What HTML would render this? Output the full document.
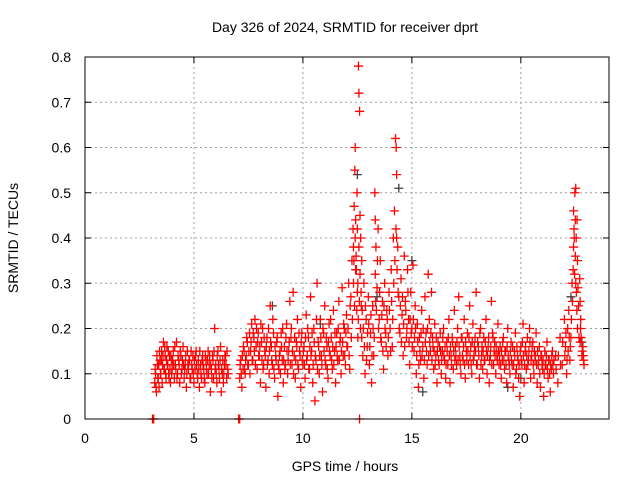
<!DOCTYPE html>
<html><head><meta charset="utf-8"><style>
body{margin:0;background:#fff;}
svg{display:block;font-family:"Liberation Sans",sans-serif;}
</style></head><body>
<svg id="chart" width="640" height="480" viewBox="0 0 640 480">
<rect width="640" height="480" fill="#fff"/>
<text x="345" y="32" font-size="14" text-anchor="middle">Day 326 of 2024, SRMTID for receiver dprt</text>
<text transform="translate(18,238) rotate(-90)" font-size="14" text-anchor="middle">SRMTID / TECUs</text>
<text x="345" y="471" font-size="14" text-anchor="middle">GPS time / hours</text>
<g id="grid"></g><g id="ticks"></g><g id="marks"></g>
<rect x="85" y="57" width="524" height="362" fill="none" stroke="#000" stroke-width="1"/>
</svg>
<script>
const xTicks=[0,5,10,15,20];
const yTicks=[0,0.1,0.2,0.3,0.4,0.5,0.6,0.7,0.8];
const yTickLabels=["0","0.1","0.2","0.3","0.4","0.5","0.6","0.7","0.8"];
const times=[3.20,3.24,3.28,3.32,3.36,3.40,3.44,3.48,3.52,3.56,3.60,3.64,3.68,3.72,3.76,3.80,3.84,3.88,3.92,3.96,4.00,4.05,4.10,4.15,4.20,4.25,4.30,4.35,4.40,4.45,4.50,4.55,4.60,4.65,4.70,4.75,4.80,4.85,4.90,4.95,5.00,5.05,5.10,5.15,5.20,5.25,5.30,5.35,5.40,5.45,5.50,5.55,5.60,5.65,5.70,5.75,5.80,5.85,5.90,5.95,6.00,6.05,6.10,6.15,6.20,6.25,6.30,6.35,6.40,6.45,6.50,6.55,
7.10,7.15,7.20,7.25,7.30,7.35,7.40,7.45,7.50,7.55,7.60,7.65,7.70,7.75,7.80,7.85,7.90,7.95,8.00,8.05,8.10,8.15,8.20,8.25,8.30,8.35,8.40,8.45,8.50,8.55,8.60,8.65,8.70,8.75,8.80,8.85,8.90,8.95,9.00,9.05,9.10,9.15,9.20,9.25,9.30,9.35,9.40,9.45,9.50,9.55,9.60,9.65,9.70,9.75,9.80,9.85,9.90,9.95,
10.00,10.05,10.10,10.15,10.20,10.25,10.30,10.35,10.40,10.45,10.50,10.55,10.60,10.65,10.70,10.75,10.80,10.85,10.90,10.95,11.00,11.05,11.10,11.15,11.20,11.25,11.30,11.35,11.40,11.45,11.50,11.55,11.60,11.65,11.70,11.75,11.80,11.85,11.90,11.95,12.00,12.05,12.10,12.15,12.20,12.25,12.30,12.32,12.35,12.38,12.40,12.42,12.45,12.48,12.50,12.52,12.55,12.57,12.60,12.62,12.65,12.68,12.70,12.75,12.80,12.85,12.90,12.95,
13.00,13.05,13.10,13.15,13.20,13.25,13.30,13.32,13.35,13.40,13.45,13.50,13.55,13.60,13.65,13.70,13.75,13.80,13.85,13.90,13.95,14.00,14.05,14.10,14.15,14.20,14.25,14.28,14.30,14.35,14.40,14.45,14.50,14.55,14.60,14.65,14.70,14.75,14.80,14.85,14.90,14.95,
15.00,15.05,15.10,15.15,15.20,15.25,15.30,15.35,15.40,15.45,15.50,15.55,15.60,15.65,15.70,15.75,15.80,15.85,15.90,15.95,16.00,16.05,16.10,16.15,16.20,16.25,16.30,16.35,16.40,16.45,16.50,16.55,16.60,16.65,16.70,16.75,16.80,16.85,16.90,16.95,
17.00,17.05,17.10,17.15,17.20,17.25,17.30,17.35,17.40,17.45,17.50,17.55,17.60,17.65,17.70,17.75,17.80,17.85,17.90,17.95,18.00,18.05,18.10,18.15,18.20,18.25,18.30,18.35,18.40,18.45,18.50,18.55,18.60,18.65,18.70,18.75,18.80,18.85,18.90,18.95,
19.00,19.05,19.10,19.15,19.20,19.25,19.30,19.35,19.40,19.45,19.50,19.55,19.60,19.65,19.70,19.75,19.80,19.85,19.90,19.95,20.00,20.05,20.10,20.15,20.20,20.25,20.30,20.35,20.40,20.45,20.50,20.55,20.60,20.65,20.70,20.75,20.80,20.85,20.90,20.95,
21.00,21.05,21.10,21.15,21.20,21.25,21.30,21.35,21.40,21.45,21.50,21.60,21.70,21.80,21.90,22.00,22.05,22.10,22.15,22.20,22.25,22.30,22.35,22.40,22.42,22.45,22.48,22.50,22.52,22.55,22.58,22.60,22.65,22.70,22.72,22.75,22.80,22.85,22.88];
const values=[.08,.10,.06,.12,.09,.07,.13,.10,.15,.12,.17,.11,.14,.09,.16,.12,.10,.14,.08,.13,.11,.15,.09,.12,.17,.10,.13,.08,.14,.11,.16,.09,.12,.07,.15,.11,.13,.09,.12,.14,.08,.11,.15,.10,.13,.07,.12,.09,.14,.11,.08,.13,.10,.15,.12,.06,.11,.14,.09,.20,.12,.08,.15,.11,.13,.06,.10,.08,.12,.14,.09,.11,
.09,.13,.07,.11,.15,.10,.14,.17,.12,.19,.15,.21,.13,.18,.22,.16,.11,.19,.14,.08,.17,.20,.12,.15,.07,.18,.13,.10,.25,.16,.12,.19,.09,.14,.17,.05,.11,.15,.19,.13,.08,.16,.12,.21,.10,.15,.26,.18,.12,.28,.14,.09,.17,.22,.11,.15,.07,.19,
.12,.16,.09,.23,.14,.18,.11,.27,.15,.08,.20,.04,.13,.30,.17,.10,.22,.14,.06,.19,.25,.12,.16,.09,.21,.14,.18,.11,.24,.15,.08,.19,.13,.26,.17,.10,.29,.14,.20,.12,.23,.16,.30,.11,.27,.35,.42,.38,.47,.55,.60,.44,.33,.50,.28,.18,.78,.72,.68,.45,.40,.25,.35,.14,.30,.10,.22,.16,
.27,.12,.19,.08,.25,.14,.50,.44,.38,.29,.42,.22,.35,.17,.26,.11,.30,.19,.24,.14,.28,.20,.33,.16,.40,.46,.62,.60,.54,.38,.27,.19,.31,.23,.14,.36,.26,.18,.33,.22,.12,.28,
.20,.34,.15,.25,.10,.21,.07,.18,.13,.24,.16,.09,.27,.19,.12,.32,.22,.15,.28,.18,.11,.21,.14,.08,.17,.12,.19,.10,.15,.20,.13,.09,.17,.12,.22,.08,.14,.18,.11,.24,
.16,.12,.20,.27,.14,.10,.18,.13,.22,.09,.15,.19,.12,.25,.16,.10,.21,.14,.18,.28,.12,.16,.09,.20,.14,.11,.18,.13,.22,.10,.16,.08,.14,.26,.19,.12,.17,.10,.14,.21,
.12,.16,.09,.13,.18,.11,.15,.08,.20,.13,.10,.17,.12,.07,.15,.19,.11,.14,.09,.05,.16,.12,.21,.08,.15,.11,.18,.13,.20,.09,.14,.17,.10,.13,.19,.08,.12,.16,.07,.14,
.11,.05,.15,.12,.17,.09,.13,.06,.11,.15,.10,.14,.08,.18,.12,.22,.16,.10,.20,.24,.13,.18,.30,.33,.46,.40,.50,.36,.51,.28,.44,.20,.25,.31,.17,.22,.14,.16,.13];
const values2=[.11,.07,.14,.09,.12,.15,.10,.13,.08,.14,.11,.16,.10,.13,.12,.15,.09,.11,.14,.10,.13,.12,.16,.11,.09,.14,.12,.15,.10,.13,.12,.11,.14,.10,.12,.13,.09,.15,.11,.10,.13,.14,.12,.09,.11,.15,.10,.13,.12,.09,.14,.11,.13,.10,.14,.12,.09,.13,.15,.11,.10,.14,.12,.09,.16,.11,.13,.10,.14,.12,.15,.10,
.12,.10,.14,.16,.11,.13,.18,.12,.15,.10,.17,.13,.19,.15,.12,.20,.17,.14,.16,.21,.13,.11,.18,.14,.16,.12,.20,.15,.17,.13,.22,.11,.16,.13,.18,.12,.14,.10,.16,.20,.13,.11,.18,.15,.13,.17,.12,.20,.15,.10,.18,.13,.16,.12,.19,.14,.17,.13,
.15,.12,.18,.13,.20,.11,.16,.14,.19,.12,.17,.14,.22,.11,.16,.14,.18,.12,.20,.15,.13,.18,.11,.17,.15,.22,.13,.16,.12,.19,.16,.14,.20,.13,.18,.15,.17,.21,.14,.19,.16,.20,.14,.25,.18,.22,.30,.35,.25,.40,.33,.36,.24,.42,.30,.22,.38,.26,.32,.20,.28,.18,.24,.20,.16,.25,.13,.19,
.21,.16,.23,.14,.20,.18,.32,.26,.24,.35,.20,.28,.18,.23,.15,.25,.20,.16,.22,.18,.24,.15,.26,.22,.30,.35,.42,.40,.33,.28,.20,.25,.17,.27,.21,.16,.24,.20,.28,.17,.22,.19,
.16,.22,.18,.20,.14,.17,.12,.15,.19,.14,.20,.13,.17,.15,.20,.14,.17,.19,.13,.16,.15,.12,.18,.15,.13,.16,.15,.13,.18,.14,.16,.12,.15,.18,.14,.16,.12,.17,.15,.13,
.14,.17,.13,.16,.12,.18,.14,.16,.12,.17,.13,.15,.18,.14,.12,.17,.13,.16,.15,.12,.17,.14,.19,.12,.16,.15,.13,.17,.15,.14,.18,.13,.16,.12,.18,.15,.14,.16,.13,.15,
.14,.12,.15,.17,.13,.15,.12,.16,.14,.12,.15,.13,.16,.12,.14,.10,.16,.13,.12,.15,.13,.17,.14,.12,.16,.14,.12,.15,.17,.13,.16,.12,.15,.14,.12,.15,.13,.10,.14,.12,
.13,.10,.12,.14,.11,.13,.10,.12,.14,.12,.13,.11,.14,.12,.17,.14,.19,.13,.15,.18,.16,.22,.26,.38,.42,.32,.44,.30,.40,.24,.35,.29,.18,.26,.20,.18,.15,.14,.12];
const grayTimes=[8.6,10.8,12.5,13.4,14.4,15.0,15.5,19.4,20.0,22.3,22.8];
const grayValues=[.25,.21,.54,.27,.51,.35,.06,.07,.09,.27,.17];
const zeroTimes=[3.1,3.15,7.05,7.1,12.6];
const zeroValues=[0,0,0,0,0];

const X=t=>85+t*(523/24);
const Y=v=>419-v*(362/0.8);
const NS="http://www.w3.org/2000/svg";
const grid=document.getElementById('grid'),ticks=document.getElementById('ticks'),marks=document.getElementById('marks');
function mk(tag,attrs,parent){const e=document.createElementNS(NS,tag);for(const k in attrs)e.setAttribute(k,attrs[k]);parent.appendChild(e);return e;}
xTicks.forEach(t=>{
  if(t>0){const g=mk('line',{x1:X(t),x2:X(t),y1:57,y2:419,stroke:'#a0a0a0','stroke-dasharray':'2,3'},grid);
  
  }
  const tk=mk('path',{d:`M${X(t)},419v-6M${X(t)},57v6`,stroke:'#000'},ticks);
  
  
  const l=mk('text',{x:X(t),y:443,'font-size':14,'text-anchor':'middle'},ticks);l.textContent=t;
  
  
});
yTicks.forEach((v,i)=>{
  if(v>0&&v<0.8){const g=mk('line',{x1:85,x2:609,y1:Y(v),y2:Y(v),stroke:'#a0a0a0','stroke-dasharray':'2,3'},grid);
  
  }
  const tk=mk('path',{d:`M85,${Y(v)}h6M609,${Y(v)}h-6`,stroke:'#000'},ticks);
  
  
  const l=mk('text',{x:71,y:Y(v)+5,'font-size':14,'text-anchor':'end'},ticks);l.textContent=yTickLabels[i];
  
  
});
function plus(t,v,color,name){
  const x=X(t),y=Y(v);
  const p=mk('path',{d:`M${x-4.5},${y}h9M${x},${y-4.5}v9`,stroke:color,'stroke-width':1.3,fill:'none'},marks);
  
  
}
grayTimes.forEach((t,i)=>plus(t,grayValues[i],'#404040','gray-point'));
times.forEach((t,i)=>plus(t,values[i],'#ff0000','srmtid-point'));
times.forEach((t,i)=>{if(values2[i]!==undefined)plus(t+0.02,values2[i],'#ff0000','srmtid-point');});
zeroTimes.forEach((t,i)=>plus(t,zeroValues[i],'#ff0000','zero-point'));
</script>
</body></html>
